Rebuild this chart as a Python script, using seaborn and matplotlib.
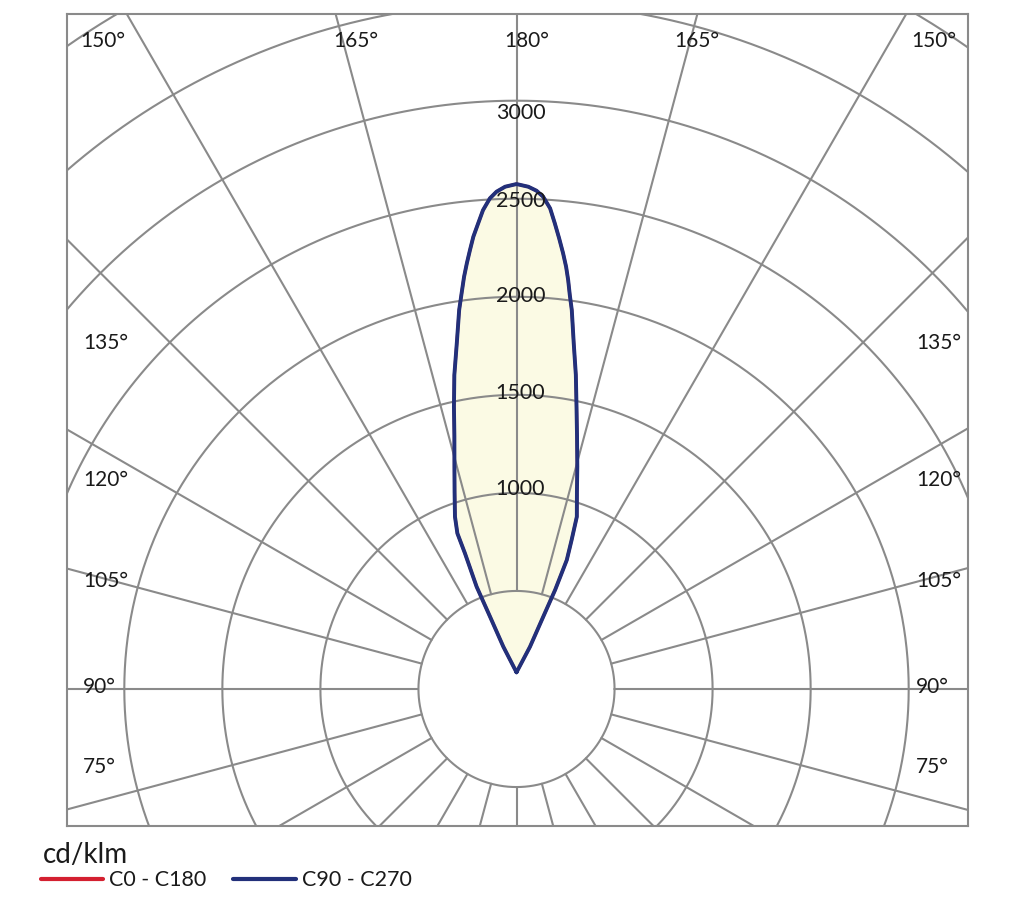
"""
Polar luminous intensity diagram (cd/klm), uplight beam
"""

import numpy as np
import pandas as pd
import matplotlib

matplotlib.use("Agg")
import matplotlib.pyplot as plt
import seaborn as sns
from matplotlib.lines import Line2D

# C90 side (right half), read top -> bottom: gamma in degrees, intensity in cd/klm
c90_gamma = [180, 178.65, 177.7, 176.9, 176.0, 175.3, 174.6, 173.9, 173.3, 172.8, 172.3, 171.7,
             170.6, 169.3, 168.0, 166.55, 164.7, 162.95, 160.7, 159.7, 158.7, 158.7, 159.7, 162.3]
c90_cd = [2575, 2562, 2543, 2514, 2457, 2383, 2309, 2235, 2168, 2102, 2028, 1953,
          1787, 1630, 1472, 1327, 1175, 1051, 931, 810, 706, 542, 393, 226]

# C270 side (left half), read top -> bottom
c270_gamma = [180, 178.7, 177.7, 176.9, 176.0, 175.3, 174.55, 173.95, 173.35, 172.75, 172.1, 171.4,
              170.2, 168.8, 167.5, 166.2, 164.4, 162.55, 160.35, 159.2, 159.2, 158.7, 159.9, 162.7]
c270_cd = [2575, 2562, 2538, 2506, 2448, 2383, 2317, 2251, 2186, 2119, 2037, 1955,
           1789, 1632, 1474, 1328, 1177, 1053, 933, 849, 740, 560, 393, 226]

# both halves close at a small tip just above the centre
tip_cd = 85

# C0 - C180 lies exactly under the C90 - C270 curve
c0_gamma = c90_gamma
c0_cd = c90_cd
c180_gamma = c270_gamma
c180_cd = c270_cd

grid_radii = [500, 1000, 1500, 2000, 2500, 3000, 3500, 4000, 4500]
grid_angles = np.arange(0, 360, 15)
radius_ticks = [1000, 1500, 2000, 2500, 3000]
radius_nudge = [22, 7, 2, -9, -63]

top_labels = ["150°", "165°", "180°", "165°", "150°"]
side_labels = ["135°", "120°", "105°", "90°", "75°"]

GRID = "#8a8a8a"
BLUE = "#22307a"
RED = "#d42030"
FILL = "#fbfae4"
TEXT = "#1a1a1a"


def to_xy(gamma_right, cd_right, gamma_left, cd_left, tip):
    """Closed outline: tip -> right side upward -> left side downward -> tip"""
    gr = np.radians(np.array(gamma_right, dtype=float))[::-1]
    rr = np.array(cd_right, dtype=float)[::-1]
    gl = np.radians(np.array(gamma_left, dtype=float))[1:]
    rl = np.array(cd_left, dtype=float)[1:]
    x = np.concatenate([[0.0], rr * np.sin(gr), -rl * np.sin(gl), [0.0]])
    y = np.concatenate([[tip], -rr * np.cos(gr), -rl * np.cos(gl), [tip]])
    return pd.DataFrame({"x": x, "y": y})


sns.set_style("white")
plt.rcParams["font.family"] = ["Lato", "DejaVu Sans"]

fig = plt.figure(figsize=(10.30, 9.17), dpi=100)
ax = fig.add_axes([67 / 1030, 91 / 917, 901 / 1030, 812 / 917])

cd_per_px = 500 / 98.05
ax.set_xlim((67 - 516.5) * cd_per_px, (968 - 516.5) * cd_per_px)
ax.set_ylim((689 - 826) * cd_per_px, (689 - 14) * cd_per_px)

# grid: circles and spokes starting at the 500 circle
t = np.linspace(0, 2 * np.pi, 721)
for r in grid_radii:
    ax.plot(r * np.cos(t), r * np.sin(t), color=GRID, lw=1.5, zorder=2)
for a in np.radians(grid_angles):
    ax.plot([500 * np.sin(a), 6000 * np.sin(a)], [500 * np.cos(a), 6000 * np.cos(a)],
            color=GRID, lw=1.5, zorder=2)

blue_df = to_xy(c90_gamma, c90_cd, c270_gamma, c270_cd, tip_cd)
red_df = to_xy(c0_gamma, c0_cd, c180_gamma, c180_cd, tip_cd)

ax.fill(blue_df["x"], blue_df["y"], color=FILL, lw=0, zorder=1)
sns.lineplot(data=red_df, x="x", y="y", sort=False, estimator=None, color=RED,
             lw=2.2, ax=ax, zorder=3, solid_joinstyle="round", solid_capstyle="round")
sns.lineplot(data=blue_df, x="x", y="y", sort=False, estimator=None, color=BLUE,
             lw=2.8, ax=ax, zorder=4, solid_joinstyle="round", solid_capstyle="round")

for r, nudge in zip(radius_ticks, radius_nudge):
    ax.text(20, r + nudge, str(r), ha="center", va="center", fontsize=15.5,
            color=TEXT, zorder=5)

# angle labels (axes fraction)
top_x = [(80, "left"), (356, "center"), (527, "center"), (697, "center"), (911, "left")]
for lab, (px, ha) in zip(top_labels, top_x):
    ax.text((px - 67) / 901, (826 - 41) / 812, lab, ha=ha, va="center",
            fontsize=15, color=TEXT, transform=ax.transAxes, zorder=5)
side_y = [343, 480, 581, 687, 767]
for lab, py in zip(side_labels, side_y):
    for px in (83, 916):
        ax.text((px - 67) / 901, (826 - py) / 812, lab, ha="left", va="center",
                fontsize=15, color=TEXT, transform=ax.transAxes, zorder=5)

ax.set_xticks([])
ax.set_yticks([])
ax.set_xlabel("")
ax.set_ylabel("")
for s in ax.spines.values():
    s.set_color(GRID)
    s.set_linewidth(1.5)

# unit and legend below the plot
fig.text(43 / 1030, 1 - 855 / 917, "cd/klm", ha="left", va="center", fontsize=20, color=TEXT)
for x0, x1, col, lab in [(41, 103, RED, "C0 - C180"), (233, 296, BLUE, "C90 - C270")]:
    fig.add_artist(Line2D([x0 / 1030, x1 / 1030], [1 - 879 / 917] * 2, color=col, lw=3))
    fig.text((x1 + 6) / 1030, 1 - 880 / 917, lab, ha="left", va="center", fontsize=15.5,
             color=TEXT)

fig.savefig("out.png", dpi=100)
